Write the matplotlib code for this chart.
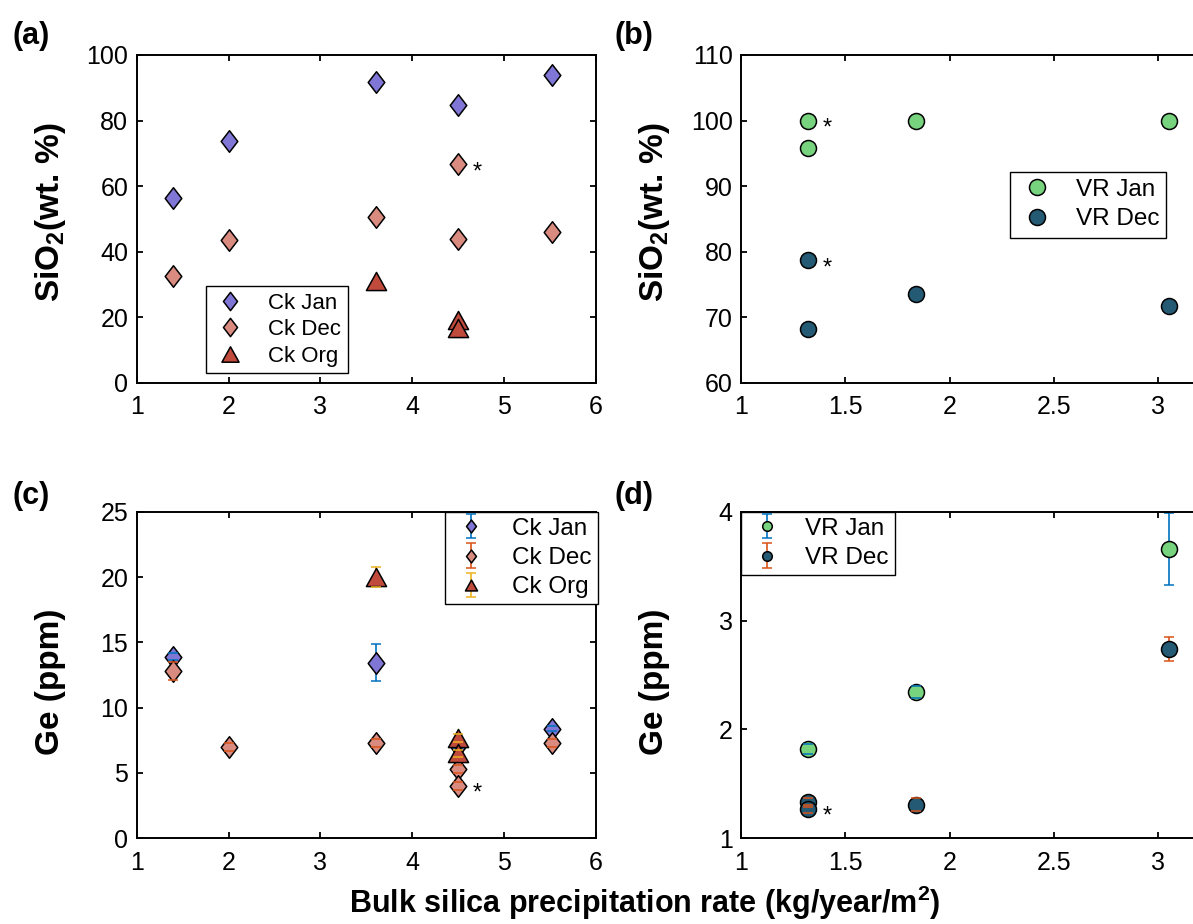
import numpy as np
import matplotlib
matplotlib.use("Agg")
import matplotlib.pyplot as plt
from matplotlib.path import Path

plt.rcParams['font.family'] = ['Liberation Sans', 'DejaVu Sans']
plt.rcParams['mathtext.default'] = 'regular'

# ---------------- data ----------------
# Creek samples: SiO2 (wt.%)
ck_jan_x = [1.39, 2.01, 3.60, 4.50, 5.52]
ck_jan_sio2 = [56.3, 73.9, 91.7, 84.7, 93.8]
ck_dec_x = [1.39, 2.01, 3.60, 4.50, 4.50, 5.52]
ck_dec_sio2 = [32.5, 43.6, 50.5, 66.7, 43.9, 46.0]
ck_dec_sio2_flag = [False, False, False, True, False, False]
ck_org_x = [3.60, 4.50, 4.50]
ck_org_sio2 = [31.2, 19.3, 16.7]

# Creek samples: Ge (ppm) with uncertainties
ck_jan_ge_x = [1.39, 3.60, 4.50, 5.52]
ck_jan_ge = [13.9, 13.45, 7.1, 8.4]
ck_jan_ge_err = [0.25, 1.4, 0.2, 0.22]
ck_dec_ge_x = [1.39, 2.01, 3.60, 4.50, 4.50, 5.52]
ck_dec_ge = [12.8, 7.0, 7.3, 5.3, 4.0, 7.3]
ck_dec_ge_err = [0.7, 0.3, 0.3, 0.3, 0.3, 0.3]
ck_dec_ge_flag = [False, False, False, False, True, False]
ck_org_ge_x = [3.60, 4.50, 4.50]
ck_org_ge = [20.0, 7.7, 6.5]
ck_org_ge_err = [0.8, 0.32, 0.25]

# VR samples: SiO2 (wt.%)
vr_jan_x = [1.32, 1.32, 1.84, 3.05]
vr_jan_sio2 = [100.0, 95.8, 100.0, 100.0]
vr_jan_sio2_flag = [True, False, False, False]
vr_dec_x = [1.32, 1.32, 1.84, 3.05]
vr_dec_sio2 = [78.7, 68.2, 73.5, 71.8]
vr_dec_sio2_flag = [True, False, False, False]

# VR samples: Ge (ppm) with uncertainties
vr_jan_ge_x = [1.32, 1.84, 3.05]
vr_jan_ge = [1.82, 2.34, 3.66]
vr_jan_ge_err = [0.05, 0.055, 0.33]
vr_dec_ge_x = [1.32, 1.32, 1.84, 3.05]
vr_dec_ge = [1.33, 1.27, 1.31, 2.74]
vr_dec_ge_err = [0.04, 0.04, 0.06, 0.11]
vr_dec_ge_flag = [False, True, False, False]

# ---------------- style ----------------
C_CK_JAN = '#7F76D6'
C_CK_DEC = '#D98B80'
C_CK_ORG = '#C04A3C'
C_VR_JAN = '#78D37F'
C_VR_DEC = '#245A73'
E_BLUE = '#0072BD'
E_ORANGE = '#D95319'
E_YELLOW = '#EDB120'

DIAMOND = Path([(0, 1), (0.77, 0), (0, -1), (-0.77, 0), (0, 1)],
               [Path.MOVETO, Path.LINETO, Path.LINETO, Path.LINETO, Path.CLOSEPOLY])
TRIANGLE = Path([(0, 0.9), (1, -0.9), (-1, -0.9), (0, 0.9)],
                [Path.MOVETO, Path.LINETO, Path.LINETO, Path.CLOSEPOLY])

W, H = 1193, 924
fig = plt.figure(figsize=(W / 100, H / 100), dpi=100)


def px_axes(x0, y0, x1, y1):
    return fig.add_axes([x0 / W, 1 - y1 / H, (x1 - x0) / W, (y1 - y0) / H])


ax_a = px_axes(136.7, 55, 596, 383)
ax_b = px_axes(741, 55, 1200, 383)
ax_c = px_axes(136.7, 511.7, 596, 838.3)
ax_d = px_axes(741, 511.7, 1200, 838.3)

for ax in (ax_a, ax_b, ax_c, ax_d):
    for s in ax.spines.values():
        s.set_linewidth(1.4)
    ax.tick_params(direction='in', length=4, width=1.3, top=True, right=True,
                   labelsize=18)
    ax.tick_params(axis='x', pad=9)
    ax.tick_params(axis='y', pad=6)

MS_D = 15.5
MS_T = 14.5
MS_O = 11.5
MEW = 1.1


def star(ax, xs, ys, flags):
    for x, y, f in zip(xs, ys, flags):
        if f:
            ax.annotate('*', (x, y), xytext=(14, -10), textcoords='offset points',
                        ha='center', va='baseline', fontsize=17)


def legend_at(ax, x0, y0, **kw):
    return ax.legend(loc='upper left', bbox_to_anchor=(x0 / W, 1 - y0 / H),
                     bbox_transform=fig.transFigure, borderaxespad=0,
                     fancybox=False, framealpha=1, edgecolor='k', **kw)


def ebar(ax, x, y, e, marker, ms, face, ecol, label, z):
    cont = ax.errorbar(x, y, yerr=e, marker=marker, linestyle='none', ms=ms,
                       mfc=face, mec='k', mew=MEW, ecolor=ecol, elinewidth=1.2,
                       capsize=3.6, capthick=1.2, label=label)
    data_line, caps, bars = cont.lines
    data_line.set_zorder(z)
    for c in caps:
        c.set_zorder(z + 0.05)
    for b in bars:
        b.set_zorder(z - 0.05)
    return cont


# (a) Creek SiO2
ax_a.plot(ck_jan_x, ck_jan_sio2, linestyle='none', marker=DIAMOND, ms=MS_D,
          mfc=C_CK_JAN, mec='k', mew=MEW, label='Ck Jan')
ax_a.plot(ck_dec_x, ck_dec_sio2, linestyle='none', marker=DIAMOND, ms=MS_D,
          mfc=C_CK_DEC, mec='k', mew=MEW, label='Ck Dec')
ax_a.plot(ck_org_x, ck_org_sio2, linestyle='none', marker=TRIANGLE, ms=MS_T,
          mfc=C_CK_ORG, mec='k', mew=MEW, label='Ck Org')
star(ax_a, ck_dec_x, ck_dec_sio2, ck_dec_sio2_flag)
ax_a.set_xlim(1, 6)
ax_a.set_ylim(0, 100)
ax_a.set_xticks([1, 2, 3, 4, 5, 6])
ax_a.set_yticks([0, 20, 40, 60, 80, 100])
legend_at(ax_a, 206, 286, fontsize=16, handletextpad=0.9, labelspacing=0.25,
          borderpad=0.3, handlelength=1.6, markerscale=0.85)

# (b) VR SiO2
ax_b.plot(vr_jan_x, vr_jan_sio2, linestyle='none', marker='o', ms=MS_O,
          mfc=C_VR_JAN, mec='k', mew=MEW, label='VR Jan')
ax_b.plot(vr_dec_x, vr_dec_sio2, linestyle='none', marker='o', ms=MS_O,
          mfc=C_VR_DEC, mec='k', mew=MEW, label='VR Dec')
star(ax_b, vr_jan_x, vr_jan_sio2, vr_jan_sio2_flag)
star(ax_b, vr_dec_x, vr_dec_sio2, vr_dec_sio2_flag)
ax_b.set_xlim(1, 3.2)
ax_b.set_ylim(60, 110)
ax_b.set_xticks([1, 1.5, 2, 2.5, 3])
ax_b.set_xticklabels(['1', '1.5', '2', '2.5', '3'])
ax_b.set_yticks([60, 70, 80, 90, 100, 110])
legend_at(ax_b, 1010, 171.7, fontsize=17.5, handletextpad=0.8, labelspacing=0.3,
          borderpad=0.3, handlelength=1.6)

# (c) Creek Ge
ebar(ax_c, ck_jan_ge_x, ck_jan_ge, ck_jan_ge_err, DIAMOND, MS_D, C_CK_JAN, E_BLUE, 'Ck Jan', 2.0)
ebar(ax_c, ck_dec_ge_x, ck_dec_ge, ck_dec_ge_err, DIAMOND, MS_D, C_CK_DEC, E_ORANGE, 'Ck Dec', 2.2)
ebar(ax_c, ck_org_ge_x, ck_org_ge, ck_org_ge_err, TRIANGLE, MS_T, C_CK_ORG, E_YELLOW, 'Ck Org', 2.4)
star(ax_c, ck_dec_ge_x, ck_dec_ge, ck_dec_ge_flag)
ax_c.set_xlim(1, 6)
ax_c.set_ylim(0, 25)
ax_c.set_xticks([1, 2, 3, 4, 5, 6])
ax_c.set_yticks([0, 5, 10, 15, 20, 25])
legend_at(ax_c, 445.3, 511.7, fontsize=17.5, handletextpad=0.9, labelspacing=0.3,
          borderpad=0.25, handlelength=1.6, markerscale=0.6)

# (d) VR Ge
ebar(ax_d, vr_jan_ge_x, vr_jan_ge, vr_jan_ge_err, 'o', MS_O, C_VR_JAN, E_BLUE, 'VR Jan', 2.0)
ebar(ax_d, vr_dec_ge_x, vr_dec_ge, vr_dec_ge_err, 'o', MS_O, C_VR_DEC, E_ORANGE, 'VR Dec', 2.2)
star(ax_d, vr_dec_ge_x, vr_dec_ge, vr_dec_ge_flag)
ax_d.set_xlim(1, 3.2)
ax_d.set_ylim(1, 4)
ax_d.set_xticks([1, 1.5, 2, 2.5, 3])
ax_d.set_xticklabels(['1', '1.5', '2', '2.5', '3'])
ax_d.set_yticks([1, 2, 3, 4])
legend_at(ax_d, 741, 511.7, fontsize=17.5, handletextpad=0.8, labelspacing=0.3,
          borderpad=0.25, handlelength=1.6, markerscale=0.6)

# axis labels
ylab = dict(fontsize=24, fontweight='bold', rotation=90, ha='center', va='center')
fig.text(50 / W, 1 - 212 / H, 'SiO$_2$(wt. %)', **ylab)
fig.text(655 / W, 1 - 212 / H, 'SiO$_2$(wt. %)', **ylab)
fig.text(50 / W, 1 - 682 / H, 'Ge (ppm)', **ylab)
fig.text(655 / W, 1 - 682 / H, 'Ge (ppm)', **ylab)
fig.text(645 / W, 1 - 913 / H, 'Bulk silica precipitation rate (kg/year/m$^2$)',
         fontsize=22, fontweight='bold', ha='center', va='baseline')

# panel letters
for lab, x, y in [('(a)', 12, 36), ('(b)', 614, 36), ('(c)', 12, 496), ('(d)', 614, 496)]:
    fig.text(x / W, 1 - y / H, lab, fontsize=22, fontweight='bold', ha='left', va='center')

fig.savefig('out.png', dpi=100)
